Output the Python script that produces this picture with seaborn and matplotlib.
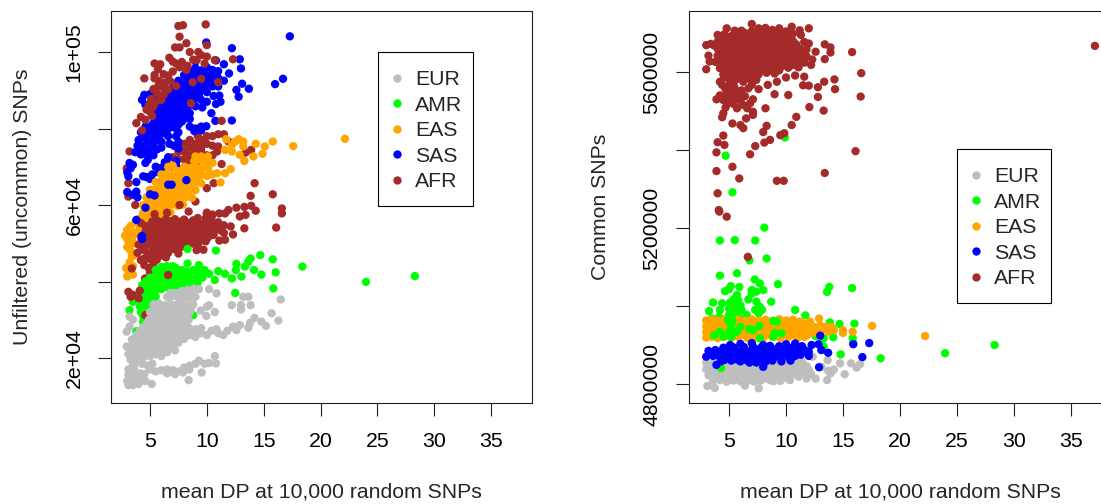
import matplotlib
matplotlib.use("Agg")
import matplotlib.pyplot as plt
from matplotlib.patches import Rectangle
import pandas as pd
import seaborn as sns

groups = ["EUR", "AMR", "EAS", "SAS", "AFR"]
colors = ["#BEBEBE", "#00FF00", "#FFA500", "#0000FF", "#A52A2A"]
x_ticks = [5, 10, 15, 20, 25, 30, 35]
left_y_ticks = [20000, 40000, 60000, 80000, 100000]
left_y_labels = ["2e+04", "", "6e+04", "", "1e+05"]
right_y_ticks = [4800000, 5000000, 5200000, 5400000, 5600000]
right_y_labels = ["4800000", "", "5200000", "", "5600000"]

# Left panel: (mean DP, unfiltered SNPs in thousands)
left_afr_mid = [(8.5,77),(9,76),(9.5,75),(10,76),(10.5,78),(11,78.5),(11.5,78.5),(8,74),(8.5,73),(9,72),(9.5,74),(10,73),(7.5,72),(7,70),(7.5,68),(8,69),(9,70.5),(10,72.5),(6.5,71),
 (11,75.3),(11.9,76.6),(13.4,73.7),(13.9,74.4),(11.3,70.7),(14.2,65.7),(15.8,62.8),(13.85,62.4),(10.6,65.7),(10,64.4),(7.6,64.5),(7.35,60.9),(9,60.9),(3.7,60),(3.1,65.7),(2.95,69.6),(3.2,74),(3.1,62.2),(10.9,74),(10.5,73),
 (8,76),(8.5,75),(9,74),(9.5,77),(10,78),(7.5,74),(8,72),(8.5,71),(7,72.5),(9.5,72),(10.5,75.5),(9.2,78)]
left_sas = [(17.3,104.1),(12.2,101),(12.9,98.1),(13,95.7),(11.95,94.4),(13.1,91.7),(13.7,90.4),(12.6,90.1),(12.8,88.3),(16,91.6),(16.7,93),(12.2,82.1),(10.75,82),(10.4,84),(9.95,80.6),(9.95,102.5),
 (9,97.5),(10.8,97.8),(11.5,96.8),(10,96),(9,95.8),(8.5,95),(9.5,95.2),(10.5,95.3),(11,95),(8,94),(8.5,93.5),(9,94),(9.5,93.7),(10,94),(10.5,93.5),(11,93.2),(11.5,92.5),(7.5,92.5),(8,92),(8.5,91.8),(9,92),(9.5,91.5),(10,91.8),(10.5,91),(11,91),(7,90.5),(7.5,90.5),(8,90),(8.5,90.2),(9,89.8),(9.5,90),(10,89.5),(10.6,88.5),(11.1,88.6),(11.2,87),(10.8,86.4),(6.5,89),(7,88.8),(7.5,88.7),(8,88.3),(8.5,88.2),(9,88),(9.5,87.5),(10,87),(9.6,85.5),(6,87.5),(6.5,87),(7,87),(7.5,86.7),(8,86.5),(8.5,86.4),(9,85.8),(5,89),(4.3,87.5),(4.5,88.8),(4.6,86.2),(5.5,88.5),(5.5,86),(6,85.5),(6.5,85.3),(7,85),(7.5,84.7),(8,84.3),(8.5,84),(5,84.5),(5.5,84),(6,83.5),(6.5,83.5),(7,83),(7.5,83),(8,82.5),(8.5,82.5),(5.4,82),(6,81.8),(6.5,81.5),(7,81.3),(7.5,81),(8.5,80.5),(9,80),(9.5,79.5),(4.6,80.5),(5,80),(5.5,79.8),(6,79.5),(6.5,79.5),(7.5,79),(8.9,79.3),(9.5,80.5),(4.2,79),(4.8,78.5),(5.3,78),(5.8,77.5),(6.6,78),(7.3,78),(7.5,76.5),(6.7,76),(7.1,75.5),(4,77),(4.3,75.5),(4.8,76.5),(5.3,75.5),(5.6,74.5),(6,75),(3.9,75.5),(4,74),(4.2,73.2),(3.7,73.8),(4.9,74.5),(5.3,73),(7.5,74.8),(4.8,71.8),(6.6,72.5),(6.3,71.2),(7.3,71.5),(7.3,70.4),(3.2,71),(3.3,69.6),(3.5,70.5),(3,68.5),(3.1,67.5),(4.6,71),(5.2,68),(5.5,70),(6,69.7),(5.8,68.5),(4.4,67.5),(4.7,67.3),(5,66.8),(3.8,66),(3.8,63.5),(3,63.4),(3.9,62),(3.5,62.7),
 (8.3,93),(8.8,92.8),(9.3,92.8),(9.8,92.7),(10.3,92.4),(7.3,91.5),(7.8,91.3),(8.3,91),(8.8,90.9),(9.3,90.8),(9.8,90.7),(7.3,89.7),(7.8,89.3),(8.3,89.2),(8.8,89),(9.3,88.8),(6.8,87.9),(7.3,87.8),(7.8,87.5),(8.3,87.3),(8.8,87.2),(6.3,86.2),(6.8,86),(7.3,85.9),(7.8,85.6),(8.3,85.3),(5.3,85),(5.8,84.7),(6.3,84.4),(6.8,84.2),(7.3,83.9),(7.8,83.7),(8.3,83.3),(5.8,82.7),(6.3,82.5),(6.8,82.2),(7.3,82),(7.8,81.8),(5.2,81),(5.7,80.8),(6.2,80.5),(6.8,80.3),(7.3,80),(4.8,79.5),(5.3,79),(5.8,78.6),(6.3,78.8),(4.5,77.6),(5,77.4),(5.5,76.8),(6,76.5),(4.4,74.7),(4.5,73.5),(4.9,73.2)]
left_afr_top = [(7.5,106.8),(7.9,107),(9.9,107.2),(7.6,104),(8.2,102.3),(10,101.8),(7.2,101.2),(7.6,101.2),(8.5,100),(9.25,100),(9.5,99.2),(10,98.8),(10.7,97.9),(12.3,98.1),(5.4,97),(6.7,98.5),(7,97.5),(5.7,95.5),(9.1,97.9),(9.8,97),(8.3,96.4),(7,94.9),(6.2,94.2),(4.5,93.1),(5.4,93.1),(5.4,94),(9.5,93),(8.75,92.1),(11,92.1),(5.3,90.3),(6.2,90.5),(6.8,92.3),(7.3,91.1),(5.6,89.2),(6,87.5),(5,84.4),(4.2,83),(3.8,81.4),(4.3,79.5),(11.3,82),(8.6,86.6),(7.3,97),(8.2,95.3),(6.2,88.8),(4.7,84.9),(5.3,85.7),
 (7.6,96),(7.8,97.4),(8.8,98),(5.8,92.5),(6.3,92),(5.7,91),(5.1,87.7),(5.5,87),(4.9,86),(6.6,93.8),(5.2,83.3),(4.6,82.3),(6.6,90.2),(5.9,96.8)]
left_eas = [(11.7,77.2),(12.8,77.2),(13.2,76.6),(14.3,76),(15.1,75.3),(15.8,76.6),(17.6,75.4),(14.9,73.4),(14.1,72.7),(13.3,71.5),(12.9,73.1),(12.2,74),(11.6,74.4),(12.2,75.7),(13.2,75.3),(12.5,76.6),(22.15,77.3),
 (9,72.7),(9.5,72.7),(10.1,72.7),(8.9,71.5),(9.5,71.8),(10,71.2),(10.5,71),(10.1,69.6),(10.9,68.3),(11.6,68.3),(12.1,69.4),(11.2,65.9),(10.5,68),
 (6.6,70),(7,70.3),(8,70),(8.5,69.7),(9,70),(9.5,69.6),(6,68),(6.5,68.2),(7,67.8),(7.5,68.2),(8,67.9),(8.5,68.1),(9,67.7),(9.5,68),(10,67.6),(5.5,66),(6,66.2),(6.5,65.8),(7,66.1),(7.5,65.9),(8,66.2),(8.5,65.8),(9,66.1),(9.5,65.7),(5,64),(5.5,64.2),(6,63.8),(6.5,64.1),(7,63.9),(7.5,64.2),(8,63.8),(8.5,64.1),(9,63.9),(4.7,62),(5.2,62.2),(5.7,61.8),(6.2,62.1),(6.7,61.9),(7.2,62.2),(7.7,61.8),(8.2,62.1),(8.7,61.9),(4.4,60),(4.9,60.2),(5.4,59.8),(5.9,60.1),(6.4,59.9),(6.9,60.2),(7.4,59.8),(7.9,60.1),(4.4,58),(4.8,58.2),(5.3,57.8),(5.8,58.1),(6.3,57.9),(6.8,58.1),(4.5,56),(5,56.2),(5.5,55.8),(6,56.1),
 (2.8,52),(3,53.5),(3.3,54.5),(3.7,55.5),(4.1,56.5),(3,51),(3.2,50),(3.3,48),(3.4,46.5),(3.2,45),(2.9,43.5),(3.1,42),(3.5,41.8),(3,41.3),(3.5,44),(3.6,52.5),(3.9,53),(4.1,54.5),(3.6,50),(3.7,47),
 (7.3,69),(7.8,69),(8.3,69),(8.8,69),(9.3,69),(6.3,67),(6.8,67),(7.3,67),(7.8,67),(8.3,67),(8.8,67),(9.3,67),(5.8,65),(6.3,65),(6.8,65),(7.3,65),(7.8,65),(8.3,65),(8.8,65),(5.3,63),(5.8,63),(6.3,63),(6.8,63),(7.3,63),(7.8,63),(8.3,63),(4.9,61),(5.4,61),(5.9,61),(6.4,61),(6.9,61),(7.4,61),(4.6,59),(5.1,59),(5.6,59),(6.1,59),(6.6,59),(4.8,57),(5.3,57),(5.8,57),(3,49),(3.4,51.5),(3.3,53)]
left_afr_low = [(3.9,47.5),(4.2,45.6),(4.5,44.3),(4.9,43.5),(5.3,44.8),(5.6,45.7),(6.0,46.8),(6.4,46.3),
 (4.0,49.6),(4.4,48.3),(4.8,47.2),(5.2,47.9),(5.6,48.6),(6.0,49.2),(6.4,48.7),(6.8,49.4),(7.2,48.4),(7.5,47.3),(9.1,48.2),(9.7,48.3),(8.8,49.9),
 (4.2,51.6),(4.6,50.7),(5.0,50.3),(5.4,51.1),(5.8,51.6),(6.2,51.1),(6.6,51.7),(7.0,50.7),(7.4,51.3),(7.8,50.2),(8.2,50.8),(8.6,50.4),(9.0,51.3),(9.4,50.6),(9.9,50.5),(10.1,51.5),
 (4.6,53.1),(5.0,52.8),(5.4,53.4),(5.8,53.9),(6.2,53.4),(6.6,54.2),(7.0,53.5),(7.4,54.1),(7.8,53.3),(8.2,53.8),(8.6,53),(9.0,53.6),(9.4,54),(9.8,53.1),(10.2,53.5),
 (4.2,55.3),(5.2,55.7),(5.6,56),(6.0,55.5),(6.4,56.3),(6.8,55.8),(7.2,56.3),(7.6,55.6),(8,56.2),(8.4,55.3),(8.8,56),(9.2,56.6),(10.1,55.6),(10.6,54.8),(11,54.2),(11.5,54.7),(12.1,54.4),(12.3,52.3),(11.5,52.7),(11.6,50.9),(11.1,50.7),(11,55.5),(10.4,56.6),(10,57.6),(10.5,57.5),(9.9,56.5),
 (10,58),(11.1,57.8),(11.6,57.8),(11.9,58.7),(12.6,59.3),(13.3,59.5),(13.9,59.8),(14.3,58.5),(16.6,59.1),(16.6,57.8),(16.1,54.1),(13.3,53.9),(12.9,57),(13.4,57.4),(7.6,60),(8.4,58.3),(5.4,57.6),(6.5,58),(3.4,43.4),(5,42.3),(4.56,40.8),
 (4.5,46),(5,45.9),(5.5,47),(6.2,47.8),(6.6,47.5),(4.6,49.2),(5.2,49.4),(5.7,50),(6.3,50),(6.8,50.6),(7.2,49.6),(7.7,49),(8.3,49.6),(9.2,49.5),(4.7,52),(5.2,52),(5.6,52.4),(6,52.6),(6.4,52.5),(6.8,52.8),(7.2,52.4),(7.6,52.3),(8,52),(8.4,52.2),(8.8,52),(9.2,52.3),(9.6,51.9),(10,52.4),(10.6,52.2),(10.6,53.2),(11.2,53.4),(5.4,54.7),(5.8,54.8),(6.3,55),(6.7,55),(7.1,54.9),(7.5,54.8),(7.9,55),(8.3,54.6),(8.8,54.8),(9.2,55),(9.6,55),(10,54.5),(4.6,54.5),(5,54.6)]
left_sas_front = [(5,62.8),(5.4,62.5),(6.6,65.3),(6.9,65.3),(8.2,66.5),(4.6,59.3),(3.8,56.1),(4.3,51.9),(4.3,51.1)]
left_amr = [(18.4,43.9),(24,39.9),(28.3,41.4),(14.7,46.9),(15.8,45.8),(16.05,42.4),(14.8,41.8),(15.85,38.2),(12.5,37),(10.8,48.1),(13.85,46),(13.65,45.2),(14.15,43),(13.35,43.9),(12.6,44.6),(12.55,43),(13.05,41.3),(12.2,40.8),(11.6,42),(11,42.7),(10.7,40.4),(8.3,48.5),(8.3,44.7),(9.3,44.3),(8.8,31.2),(3.2,32.5),(3.5,34.7),
 (10.2,42),(9.8,43),(9.3,42.5),(8.8,43),(8.3,42.5),(7.8,43),(7.3,43.5),(7,44),(6.5,44),(6,43.8),(5.5,43),(9.6,41),(9,41),(8.5,41),(8,41),(7.5,41.5),(7,42),(6.5,42.5),(6,42),(5.5,41.5),(5,41),(4.6,40),(9.2,39.8),(8.5,39.5),(7.5,39.8),(7,40.5),(6.5,40.5),(6,40),(5.5,39.5),(5,39),(4.5,38),(6.5,38.5),(6,38),(5.5,37.7),(5,37),(4.5,36),(4.2,37),(5.5,36),(5,35.5),(4.3,34.5),(4.1,33.5),(4.5,34),(4.9,34),(4.2,32),(4.4,31),(4.4,29.5),(4.8,30),(3.8,27),(5.2,29),
 (8,39.3),(7,39),(7.5,38.5),(4.6,35),(4.7,33),(4.7,31.5),(4.4,28),(5,32.5),(4.3,39)]
left_afr_spots = [(6.6,41.7),(4.6,31.2),(3.1,37.3),(3.5,36.5),(4,35.6),(4.1,37.6),(3.3,36)]
left_eur = [(16.5,35.3),(15.7,31.7),(16.3,29.8),(15.2,28.4),(14.8,29.5),(14.2,30.5),(13.8,29.2),(13.65,27.9),(12.9,28.6),(12.3,28.2),(12.6,27.3),(11.45,26),(10.85,27.5),(10.4,27.1),(12.2,33.8),(13,33.8),(13,32.7),(13.85,33.8),(13.2,36),(13.65,36),(10.85,36.9),(10.2,38),(10.2,33.8),(10,33.4),(9.45,32.4),(10.7,32),(9.95,31),(10.7,20.5),(10.8,18.6),(10.2,18.7),(9.55,16.2),(8.4,14.2),(9.3,19.3),(8.45,17),(5.15,13.2),
 (3.7,23),(4.5,24),(5,25),(5.5,24.3),(6,22),(6.5,22.3),(7,23),(7.5,24),(8,25),(8.5,26),(9,25.5),(9.5,26.5),(10,26),(6.5,24),(7,25),(7.5,26),(8,27),(8.5,27),(9,27.5),(9.5,27.8),(11,26.5),(11.8,27.1),
 (7.8,37.5),(8.3,37.8),(8.8,38),(9.3,38),(6.5,36),(7,36.2),(7.5,35.8),(8,36.1),(8.5,35.9),(9,36),(5.3,34),(5.8,34.2),(6.3,33.8),(6.8,34.1),(7.3,33.9),(7.8,34.2),(8.3,33.8),(8.8,34),(5,32),(5.5,32.2),(6,31.8),(6.5,32.1),(7,31.9),(7.5,32.2),(8,31.8),(8.5,32),(4.9,30),(5.4,30.2),(5.9,29.8),(6.4,30.1),(6.9,29.9),(7.4,30.2),(7.9,29.8),(8.4,30),(4.4,28),(4.9,28.2),(5.4,27.8),(5.9,28.1),(6.4,27.9),(6.9,28.2),(7.4,27.8),(7.9,28.1),(8.4,28),(3.8,26),(4.3,26.2),(4.8,25.8),(5.3,26.1),(5.8,25.9),(6.3,26.2),(6.8,25.8),(3.6,24),(4.1,24.2),(3.1,21),(3.4,21.3),(3.8,21),(4.2,20.5),(3.3,19.5),(3.7,19),(3.5,18),(4.3,18.5),(3.1,17),(3.5,16.5),(3.1,15.5),(3.6,15),(4.1,16),(4.5,15.8),(3,14),(3.4,13.5),(3.8,13.7),(4.2,14),(4.6,14),(3.1,12.9),(3.5,12.9),(4,13.2),
 (5,17),(5.5,16.5),(6,16.8),(6.5,17),(7,16.8),(7.5,16.5),(8,17.5),(8.5,18),(9,18.5),(9.8,18.5),(6.5,16),(7.2,15.8),(7.9,16.2),(5.2,18.5),(4.8,18),(4.4,20),(4.7,21.5),(5,20.5),(5.5,21),(6,20.5),(6.5,21.5),(7.2,22),(2.95,23),(2.95,26.9),(3.2,30.8),(3.5,30),(3.2,28.2),(3.4,24.8),(4,22.8),
 (6.8,37),(7.3,37),(7.8,36.2),(8.3,35.8),(8.8,36.8),(5.6,33),(6.1,33),(6.6,33),(7.1,33),(7.6,33),(8.1,33),(8.6,33),(5.2,31),(5.7,31),(6.2,31),(6.7,31),(7.2,31),(7.7,31),(8.2,31),(4.7,29),(5.2,29),(5.7,29),(6.2,29),(6.7,29),(7.2,29),(7.7,29),(8.2,29),(4.1,27),(4.6,27),(5.1,27),(5.6,27),(6.1,27),(6.6,27),(7.1,27),(7.6,27),(4.6,25),(5.4,25),(5.9,25),(6.2,24.8),(6.6,25.2),(7.3,25),(3.8,24.8),(4.8,23),(5.3,23),(5.8,23),(6.2,23.2),(4.4,22),(4.9,22),(5.3,22),(3.3,22.8),(3.6,17.5),(3.7,20.2),(3.9,15),(3.3,14.7)]

# Right panel: (mean DP, common SNPs in thousands)
right_eur = [(14.75,4853),(15.7,4853),(16.5,4851),(16.2,4842),(15.15,4825),(14.2,4837),(13.7,4834),(13.9,4827),(13.6,4810),(13.1,4844),(13.65,4861),(12.35,4870),(11.8,4846),(10.9,4866),(12.6,4814),(11.8,4814),(11.1,4819),(10.35,4810),(9.5,4808),(7.6,4789),(6.4,4796),(3.75,4790),(3.1,4795),(8.6,4810),
 (3,4855),(3.6,4853),(4.2,4856),(4.8,4854),(5.4,4857),(6,4853),(6.6,4856),(7.2,4854),(7.8,4857),(8.4,4853),(9,4856),(9.6,4854),(10.2,4857),(10.8,4853),(11.4,4856),(3,4838),(3.6,4840),(4.2,4837),(4.8,4841),(5.4,4838),(6,4840),(6.6,4837),(7.2,4841),(7.8,4838),(8.4,4840),(9,4837),(9.6,4841),(10.2,4838),(10.8,4840),(11.4,4837),(12,4836),(3.2,4822),(3.8,4824),(4.4,4821),(5,4825),(5.6,4822),(6.2,4824),(6.8,4821),(7.4,4825),(8,4822),(8.6,4824),(9.2,4821),(9.8,4825),(10.4,4822),(11,4824),(11.6,4828),(12.2,4826),(3.6,4808),(4.2,4810),(4.8,4806),(5.4,4809),(6,4807),(6.6,4808),(7.2,4806),(7.8,4809),(8.9,4807),
 (3.3,4846),(3.9,4847),(4.5,4846),(5.1,4847),(5.7,4846),(6.3,4847),(6.9,4846),(7.5,4847),(8.1,4846),(8.7,4847),(9.3,4846),(9.9,4847),(10.5,4846),(11.1,4847),(3.5,4830),(4.1,4831),(4.7,4830),(5.3,4831),(5.9,4830),(6.5,4831),(7.1,4830),(7.7,4831),(8.3,4830),(8.9,4831),(9.5,4830),(10.1,4831),(10.7,4830),(3.9,4815),(4.5,4814),(5.1,4815),(5.7,4814),(6.3,4815),(6.9,4814),(7.5,4815),(8.1,4814),(8.7,4816),(9.4,4815),(10,4816)]
right_amr_back = [(8.1,5201),(4.2,5168),(5.5,5169),(7.3,5168),(8.3,5122),(6.8,5117),(5.7,5084),(4.2,5078),(7.25,5068),(7.7,5058),(9.3,5056),(5.9,5049),(5.15,5051),(4.65,5038),(5,5043),(13.8,5049),(13.6,5036),(15.8,5046),(8,5041),(7,5041),(7.4,5037),(7,5032),(5.7,5028),(3.6,5009),(4.4,5007),(5.1,5009),(5.4,5017),(5.8,5015),(6,5002),(6.7,5017),(7.4,5011),(8.7,5011),(7.7,4998),(7.3,4990),(3.25,4987),(4.2,4990),(5,4994),(5.5,4994),(6.1,4990),(7.9,4990),(10.8,4990),(11.7,4976),(4.15,4972),(5,4977),(5.7,4981),(6.55,4977),(7.6,4981),(3.5,4968),(5.4,5000),(5.6,4985),(5.3,4970),(6,4968),
 (14.8,4876),(18.3,4866),(4.3,4841),(23.95,4879),(28.3,4900),(15.9,4904),(13.3,4896),(9.9,5432),(4.7,5385.5),(5.3,5291.5),(13.85,4958),(14.7,4954),(16,4955),(11,4952),(13.3,4917),(12.6,4923),(14.15,4920),(15.85,4917)]
right_eas = [(17.55,4949),(15.85,4934),(15,4938),(15,4931),(12.9,4968),(12.1,4960),(14.2,4938),(13.7,4934),(22.2,4923),
 (3,4963),(3.5,4965),(4,4962),(4.6,4966),(5.2,4963),(5.8,4965),(6.4,4962),(7,4966),(7.6,4963),(8.2,4965),(8.8,4962),(9.4,4966),(10,4963),(10.6,4965),(11.2,4960),(3,4948),(3.5,4950),(4,4947),(4.6,4951),(5.2,4948),(5.8,4950),(6.4,4947),(7,4951),(7.6,4948),(8.2,4950),(8.8,4947),(9.4,4951),(10,4948),(10.6,4950),(11.2,4947),(11.8,4950),(12.4,4947),(13,4950),(13.5,4947),(14,4946),(3,4933),(3.5,4935),(4,4932),(4.6,4936),(5.2,4933),(5.8,4935),(6.4,4932),(7,4936),(7.6,4933),(8.2,4935),(8.8,4932),(9.4,4936),(10,4933),(10.6,4935),(11.2,4932),(11.8,4935),(12.4,4932),(13,4935),(3,4919),(3.5,4921),(4,4918),(4.6,4922),(5.2,4919),(5.8,4921),(6.6,4918),(7.2,4921),(8,4919),(8.8,4921),(9.5,4918),(10.2,4920),(11,4918),(11.6,4921),
 (3.3,4956),(4.3,4956),(4.9,4957),(5.5,4956),(6.1,4957),(6.7,4956),(7.3,4957),(7.9,4956),(8.5,4957),(9.1,4956),(9.7,4957),(10.3,4956),(10.9,4957),(11.5,4955),(3.3,4941),(4.3,4941),(4.9,4942),(5.5,4941),(6.1,4942),(6.7,4941),(7.3,4942),(7.9,4941),(8.5,4942),(9.1,4941),(9.7,4942),(10.3,4941),(10.9,4942),(11.5,4941),(12.1,4942),(12.7,4941),(13.3,4942),(3.3,4926),(4.3,4927),(4.9,4926),(5.5,4927),(6.1,4926),(6.9,4927),(7.6,4926),(8.4,4927),(9.2,4926),(9.9,4927),(10.6,4926),(11.3,4927),(11.9,4926)]
right_amr_front = [(8.9,4962),(9.2,4960),(7.66,4949),(6.8,4941),(6,4947),(5.1,4955),(5,4934),(3.7,4925),(4.2,4934),(5.7,4934),(7.1,4938),(9,4931),(9.6,4930),(7.7,4917),(5.2,4921),(4.5,4921),(8.9,4921),(5.2,4945),(5.3,4962),(4.9,4965)]
right_sas = [(13,4924),(15.9,4902),(17.3,4905),(16.7,4869),(12.9,4843),(13.7,4880),(12.85,4902),(12.25,4900),(13.1,4887),(12,4883),(3.9,4849),(8,4844),
 (5.1,4900),(6,4903),(7,4905),(8,4900),(8.6,4898),(9.4,4897),(10,4902),(10.8,4904),(11.4,4897),(3.2,4885),(3.8,4887),(4.4,4884),(5,4888),(5.6,4885),(6.2,4887),(6.8,4884),(7.4,4888),(8,4885),(8.6,4887),(9.2,4884),(9.8,4888),(10.4,4885),(11,4887),(11.6,4888),(3,4870),(3.6,4872),(4.2,4869),(4.8,4873),(5.4,4870),(6,4872),(6.6,4869),(7.2,4873),(7.8,4870),(8.4,4872),(9,4869),(9.6,4873),(10.2,4870),(10.8,4872),(11.3,4875),(12,4872),(4.3,4858),(5.2,4860),(6,4858),(6.8,4855),(7.4,4855),(8.2,4857),(9.6,4858),(10.4,4860),
 (3.5,4878),(4.1,4878),(4.7,4880),(5.3,4878),(5.9,4879),(6.5,4878),(7.1,4880),(7.7,4878),(8.3,4879),(8.9,4877),(9.5,4880),(10.1,4878),(10.7,4879),(11.3,4880),(4.5,4893),(5.4,4894),(6.3,4895),(7.1,4896),(7.8,4893),(8.8,4890),(9.7,4892),(10.6,4894),(4.6,4862),(5.7,4863),(6.4,4862),(7.1,4862),(7.9,4863),(8.8,4860)]
right_afr = [(37.1,5667),(15.8,5651),(16.6,5597),(16.55,5537),(16.1,5397),(13.4,5341),(9.2,5321),(9.8,5321),(5.9,5327),(5.3,5357),(3.9,5346),(4,5289),(4.1,5246),(4.15,5242),(4.8,5229),(6.65,5126),(3.9,5394),(4.6,5413),(4,5420),(4.5,5437),(6.85,5389),(7.3,5410),(8.1,5419),(8.6,5426),(9.5,5438),(9.85,5443),(10.5,5464),(10.9,5485),(8,5446),(8.3,5462),(5.3,5468),(6,5464),(6.25,5456),(6.5,5481),(7.1,5490),(7.1,5498),(8.2,5507),(12.05,5510),(13.3,5501),(12.8,5536),(14.3,5556),(14.25,5581),(13.35,5575),(12.8,5561),(12,5565),(11.5,5566),(11.6,5588),(10.2,5541),(9,5543),(10.8,5591),(10,5586),(9.2,5575),(8.4,5567),(7.6,5556),
 (4.5,5494),(4.4,5484),(4.7,5509),(5.7,5507),(6.6,5507),(6.85,5520),(3.9,5530),(4.4,5532),(4.8,5545),(5.8,5545),(6.4,5538),(7.1,5530),(6,5528),(5.5,5528),(4.2,5575),(4.4,5567),(5.4,5567),(6.25,5575),(7,5567),(6.7,5558),(5,5567),(4.5,5528),
 (7,5723),(4.8,5712),(5.5,5706),(6.1,5706),(10.5,5716),(12,5712),(11.2,5707),(11.3,5695),(3,5669),(3,5607),(3.3,5627),(3.2,5642),(13.4,5671),(13.9,5663),(13.9,5650),(13.4,5633),(12.6,5652),(12.3,5632),(12.2,5618),(11.1,5612),(12,5673),(11.6,5677),
 (4,5695),(4.6,5697),(5.2,5692),(5.8,5696),(6.4,5700),(7,5705),(7.6,5712),(8.2,5713),(8.8,5708),(9.4,5712),(10,5704),(10.6,5698),
 (3.4,5672),(4,5678),(4.6,5680),(5.2,5676),(5.8,5680),(6.4,5683),(7,5686),(7.6,5690),(8.2,5694),(8.8,5690),(9.4,5692),(10,5686),(10.6,5680),
 (4,5660),(4.6,5662),(5.2,5658),(5.8,5663),(6.4,5665),(7,5668),(7.6,5672),(8.2,5675),(8.8,5672),(9.4,5674),(10,5668),(10.6,5664),(11.2,5660),(11.8,5658),
 (4,5642),(4.6,5645),(5.2,5640),(5.8,5645),(6.4,5648),(7,5650),(7.6,5654),(8.2,5656),(8.8,5654),(9.4,5656),(10,5650),(10.6,5646),(11.2,5642),(11.8,5640),
 (3.8,5626),(4.4,5628),(5,5624),(5.6,5628),(6.2,5630),(6.8,5632),(7.4,5636),(8,5638),(8.6,5636),(9.2,5638),(9.8,5632),(10.4,5628),(11,5626),(11.6,5624),
 (4.2,5610),(4.8,5608),(5.4,5612),(6,5614),(6.6,5610),(7.2,5612),(7.8,5616),(8.4,5620),(9,5618),(9.6,5614),(10.2,5611),(10.8,5618),
 (4.5,5594),(5.2,5590),(5.8,5594),(6.4,5592),(7,5596),(7.6,5594),(8.3,5598),(9,5596),
 (4.3,5686),(4.9,5686),(5.5,5686),(6.1,5690),(6.7,5693),(7.3,5697),(7.9,5702),(8.5,5702),(9.1,5702),(9.7,5697),(10.3,5690),(3.7,5668),(4.3,5670),(4.9,5669),(5.5,5669),(6.1,5673),(6.7,5676),(7.3,5678),(7.9,5682),(8.5,5683),(9.1,5682),(9.7,5680),(10.3,5675),(10.9,5671),(4.3,5652),(4.9,5652),(5.5,5651),(6.1,5655),(6.7,5658),(7.3,5660),(7.9,5664),(8.5,5664),(9.1,5664),(9.7,5660),(10.3,5656),(10.9,5652),(11.5,5650),(4.1,5634),(4.7,5636),(5.3,5632),(5.9,5636),(6.5,5638),(7.1,5640),(7.7,5645),(8.3,5646),(8.9,5645),(9.5,5646),(10.1,5640),(10.7,5636),(11.3,5634),(4.5,5618),(5.1,5616),(5.7,5620),(6.3,5622),(6.9,5622),(7.5,5625),(8.1,5628),(8.7,5627),(9.3,5626),(9.9,5621),(10.5,5618),(5,5600),(5.6,5602),(6.2,5602),(6.8,5603),(7.4,5604),(8,5606),(8.7,5606),(9.4,5604),
 (4.6,5586),(5.1,5578),(5.7,5582),(6.1,5586),(6.8,5582),(7.4,5580),(4.7,5556),(5.2,5552),(5.5,5558),(6.1,5553),(5.1,5538),(5.7,5536),(4.2,5540),(4.9,5520),(5.4,5518),(6.2,5516)]

left_layers = [("AFR", left_afr_mid), ("SAS", left_sas), ("AFR", left_afr_top), ("EAS", left_eas),
               ("AFR", left_afr_low), ("SAS", left_sas_front), ("AMR", left_amr),
               ("AFR", left_afr_spots), ("EUR", left_eur)]
right_layers = [("EUR", right_eur), ("AMR", right_amr_back), ("EAS", right_eas),
                ("AMR", right_amr_front), ("SAS", right_sas), ("AFR", right_afr)]


def to_frame(layers):
    rows = [(g, x, y * 1000) for g, pts in layers for x, y in pts]
    return pd.DataFrame(rows, columns=["group", "dp", "snps"])


sns.set_theme(style="ticks")
plt.rcParams["font.family"] = ["Liberation Sans", "DejaVu Sans"]
FW, FH = 1101, 504
FS = 15.3
fig = plt.figure(figsize=(FW / 100, FH / 100), dpi=100)


def panel(px_left, px_right, layers, xlim, ylim, yticks, ylabels, ylabel, legend_px, xlabel_x, ylabel_x):
    ax = fig.add_axes([px_left / FW, 1 - 403 / FH, (px_right - px_left) / FW, 392 / FH])
    sns.scatterplot(data=to_frame(layers), x="dp", y="snps", hue="group", hue_order=groups,
                    palette=dict(zip(groups, colors)), s=36, linewidth=0, ax=ax, clip_on=True)
    ax.set_xlim(*xlim)
    ax.set_ylim(*ylim)
    ax.set_xticks(x_ticks)
    ax.set_xticklabels([str(t) for t in x_ticks])
    ax.set_yticks(yticks)
    ax.set_yticklabels(ylabels, rotation=90, va="center")
    ax.tick_params(axis="both", length=9.2, width=0.8, colors="#222222", labelsize=FS, labelcolor="black")
    ax.tick_params(axis="x", pad=12)
    ax.tick_params(axis="y", pad=10.5)
    for s in ax.spines.values():
        s.set_visible(True)
        s.set_linewidth(0.8)
        s.set_color("#222222")
    ax.set_xlabel("")
    ax.set_ylabel("")
    fig.text(xlabel_x / FW, 1 - 492 / FH, "mean DP at 10,000 random SNPs", ha="center", va="center", fontsize=FS)
    fig.text(ylabel_x / FW, 1 - 207 / FH, ylabel, rotation=90, ha="center", va="center", fontsize=FS)
    handles, labels = ax.get_legend_handles_labels()
    x0, y0, x1, y1 = legend_px
    ax.add_patch(Rectangle((x0 / FW, 1 - y1 / FH), (x1 - x0) / FW, (y1 - y0) / FH,
                           transform=fig.transFigure, facecolor="white", edgecolor="black",
                           linewidth=0.8, clip_on=False, zorder=4))
    leg = ax.legend(handles, labels, loc="upper left",
                    bbox_to_anchor=((x0 + 18) / FW, 1 - (y0 + 18) / FH), bbox_transform=fig.transFigure,
                    fontsize=FS, frameon=False, borderaxespad=0, borderpad=0, labelspacing=0.31,
                    handletextpad=0.8, handlelength=0.1, markerscale=1.0)
    leg.set_zorder(5)
    return ax


panel(111, 532, left_layers, (1.57, 38.6), (8235, 110720), left_y_ticks, left_y_labels,
      "Unfiltered (uncommon) SNPs", (378, 52, 473, 206), 321, 23)
panel(689, 1112, right_layers, (1.49, 38.6), (4751300, 5756400), right_y_ticks, right_y_labels,
      "Common SNPs", (957, 149, 1051, 303), 900, 601)

fig.savefig("out.png", dpi=100)
